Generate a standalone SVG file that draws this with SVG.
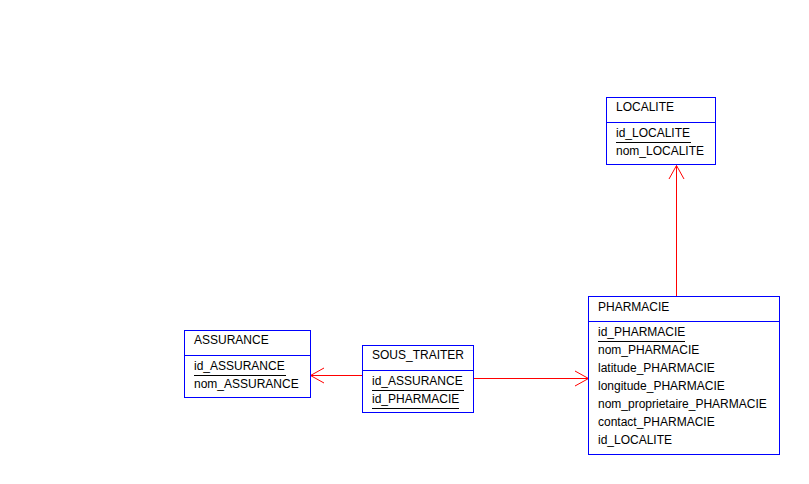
<svg xmlns="http://www.w3.org/2000/svg" width="809" height="484" viewBox="0 0 809 484">
<style>
.box{fill:#fff;stroke:#0000ff;stroke-width:1}
.div{stroke:#0000ff;stroke-width:1}
.t{font-family:"Liberation Sans",Arial,sans-serif;font-size:12px;fill:#000}
.u{stroke:#000;stroke-width:1}
.c{stroke:#ff0000;stroke-width:1;fill:none}
</style>
<rect width="809" height="484" fill="#fff"/>
<g id="connectors">
<path class="c" d="M676.5 296V165.5M669 179L676.5 165.5L684 179"/>
<path class="c" d="M362 375.5H310.5M324 368L310.5 375.5L324 383"/>
<path class="c" d="M473 378.5H588.5M575 371L588.5 378.5L575 386"/>
</g>
<g id="LOCALITE">
<rect class="box" x="606.5" y="97.5" width="109" height="67"/>
<line class="div" x1="606.5" y1="122.5" x2="715.5" y2="122.5"/>
<text class="t" x="616" y="111">LOCALITE</text>
<text class="t" x="616" y="137">id_LOCALITE</text>
<line class="u" x1="616" y1="142.5" x2="691" y2="142.5"/>
<text class="t" x="616" y="155">nom_LOCALITE</text>
</g>
<g id="ASSURANCE">
<rect class="box" x="184.5" y="330.5" width="126" height="67"/>
<line class="div" x1="184.5" y1="355.5" x2="310.5" y2="355.5"/>
<text class="t" x="194" y="344">ASSURANCE</text>
<text class="t" x="194" y="370">id_ASSURANCE</text>
<line class="u" x1="194" y1="375.5" x2="286" y2="375.5"/>
<text class="t" x="194" y="388">nom_ASSURANCE</text>
</g>
<g id="SOUS_TRAITER">
<rect class="box" x="362.5" y="345.5" width="111" height="67"/>
<line class="div" x1="362.5" y1="370.5" x2="473.5" y2="370.5"/>
<text class="t" x="372" y="359">SOUS_TRAITER</text>
<text class="t" x="372" y="385">id_ASSURANCE</text>
<line class="u" x1="372" y1="390.5" x2="464" y2="390.5"/>
<text class="t" x="372" y="403">id_PHARMACIE</text>
<line class="u" x1="372" y1="408.5" x2="459" y2="408.5"/>
</g>
<g id="PHARMACIE">
<rect class="box" x="588.5" y="296.5" width="191" height="158"/>
<line class="div" x1="588.5" y1="321.5" x2="779.5" y2="321.5"/>
<text class="t" x="598" y="311">PHARMACIE</text>
<text class="t" x="598" y="336">id_PHARMACIE</text>
<line class="u" x1="598" y1="341.5" x2="685" y2="341.5"/>
<text class="t" x="598" y="354">nom_PHARMACIE</text>
<text class="t" x="598" y="372">latitude_PHARMACIE</text>
<text class="t" x="598" y="390">longitude_PHARMACIE</text>
<text class="t" x="598" y="408">nom_proprietaire_PHARMACIE</text>
<text class="t" x="598" y="426">contact_PHARMACIE</text>
<text class="t" x="598" y="444">id_LOCALITE</text>
</g>
</svg>
